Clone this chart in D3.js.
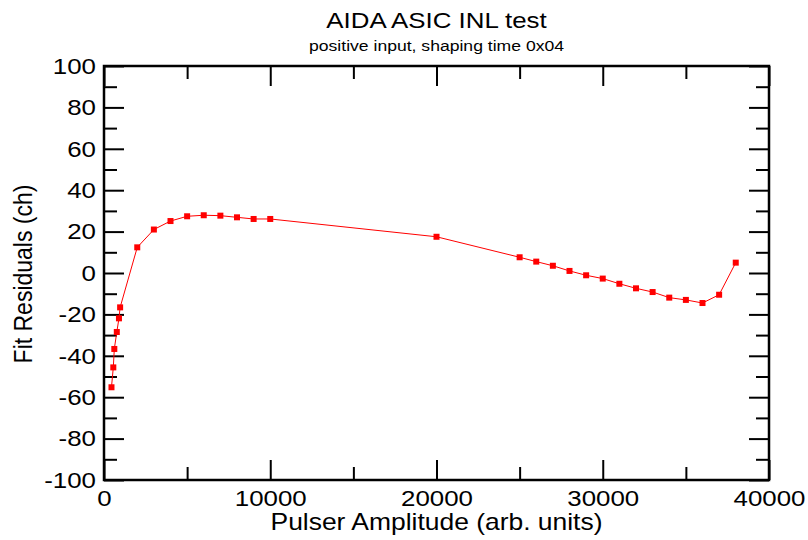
<!DOCTYPE html>
<html>
<head>
<meta charset="utf-8">
<script src="https://cdn.jsdelivr.net/npm/d3@7.9.0/dist/d3.min.js"></script>
<style>
  body { margin: 0; background: #fff; }
  svg text { font-family: "Liberation Sans", Arial, Helvetica, sans-serif; fill: #000; }
</style>
</head>
<body>
<div id="chart"></div>
<script>
// pulser amplitude (arb. units) and fit residuals (ch)
const amplitude = [450, 560, 620, 770, 900, 970, 2000, 3000, 4000, 5000, 6000, 7000, 8000, 9000, 10000,
  20000, 25000, 26000, 27000, 28000, 29000, 30000, 31000, 32000, 33000, 34000, 35000, 36000, 37000, 38000];
const residual = [-55.2, -45.6, -36.7, -28.5, -21.9, -16.6, 12.4, 21.0, 25.1, 27.4, 27.9, 27.7, 26.9, 26.1, 26.1,
  17.5, 7.6, 5.5, 3.5, 1.0, -1.1, -2.7, -5.2, -7.4, -9.2, -11.9, -13.0, -14.5, -10.5, 5.0];

const xMajor = [0, 10000, 20000, 30000, 40000];
const xMinor = [5000, 15000, 25000, 35000];
const yMajor = [-100, -80, -60, -40, -20, 0, 20, 40, 60, 80, 100];
const yMinor = [-90, -70, -50, -30, -10, 10, 30, 50, 70, 90];

const title = "AIDA ASIC INL test";
const subtitle = "positive input, shaping time 0x04";
const xLabel = "Pulser Amplitude (arb. units)";
const yLabel = "Fit Residuals (ch)";

const width = 808;
const height = 540;
const plot = { left: 104, right: 769, top: 66, bottom: 480 };
const stretch = 1.15; // the original text is a bit wider than it is tall

const svg = d3.select("#chart")
  .append("svg")
  .attr("width", width)
  .attr("height", height);

const x = d3.scaleLinear().domain([0, 40000]).range([plot.left, plot.right]);
const y = d3.scaleLinear().domain([-100, 100]).range([plot.bottom, plot.top]);

const plain = (d) => String(d); // plain hyphen for negatives

// tick marks on all four sides, pointing inwards
function styleAxis(g) {
  g.select(".domain").remove();
  g.selectAll(".tick line").attr("stroke", "#000").attr("stroke-width", 2);
  g.selectAll(".tick text")
    .style("font-size", "22.5px")
    .attr("transform", `scale(${stretch},1)`);
}

svg.append("g")
  .attr("transform", `translate(0,${plot.bottom})`)
  .call(d3.axisBottom(x).tickValues(xMajor).tickSize(-20).tickPadding(10).tickFormat(plain))
  .call(styleAxis);
svg.append("g")
  .attr("transform", `translate(0,${plot.bottom})`)
  .call(d3.axisBottom(x).tickValues(xMinor).tickSize(-13).tickFormat(""))
  .call(styleAxis);
svg.append("g")
  .attr("transform", `translate(0,${plot.top})`)
  .call(d3.axisTop(x).tickValues(xMajor).tickSize(-20).tickFormat(""))
  .call(styleAxis);
svg.append("g")
  .attr("transform", `translate(0,${plot.top})`)
  .call(d3.axisTop(x).tickValues(xMinor).tickSize(-13).tickFormat(""))
  .call(styleAxis);

svg.append("g")
  .attr("transform", `translate(${plot.left},0)`)
  .call(d3.axisLeft(y).tickValues(yMajor).tickSize(-20).tickPadding(7).tickFormat(plain))
  .call(styleAxis);
svg.append("g")
  .attr("transform", `translate(${plot.left},0)`)
  .call(d3.axisLeft(y).tickValues(yMinor).tickSize(-13).tickFormat(""))
  .call(styleAxis);
svg.append("g")
  .attr("transform", `translate(${plot.right},0)`)
  .call(d3.axisRight(y).tickValues(yMajor).tickSize(-20).tickFormat(""))
  .call(styleAxis);
svg.append("g")
  .attr("transform", `translate(${plot.right},0)`)
  .call(d3.axisRight(y).tickValues(yMinor).tickSize(-13).tickFormat(""))
  .call(styleAxis);

// frame
svg.append("rect")
  .attr("x", plot.left)
  .attr("y", plot.top)
  .attr("width", plot.right - plot.left)
  .attr("height", plot.bottom - plot.top)
  .attr("fill", "none")
  .attr("stroke", "#000")
  .attr("stroke-width", 2.5);

const points = amplitude.map((a, i) => ({ x: a, y: residual[i] }));

svg.append("path")
  .datum(points)
  .attr("fill", "none")
  .attr("stroke", "#ff0000")
  .attr("stroke-width", 1)
  .attr("d", d3.line().x((d) => x(d.x)).y((d) => y(d.y)));

const s = 6;
svg.append("g")
  .selectAll("rect")
  .data(points)
  .join("rect")
  .attr("x", (d) => x(d.x) - s / 2)
  .attr("y", (d) => y(d.y) - s / 2)
  .attr("width", s)
  .attr("height", s)
  .attr("fill", "#ff0000");

// titles
const cx = (plot.left + plot.right) / 2;
function label(tx, ty, size, text, rotate) {
  svg.append("text")
    .attr("transform", `translate(${tx},${ty}) scale(${stretch},1)` + (rotate ? " rotate(-90)" : ""))
    .attr("text-anchor", "middle")
    .style("font-size", size + "px")
    .text(text);
}
label(cx, 28, 22.5, title);
label(cx, 51, 15.3, subtitle);
label(cx, 530, 23, xLabel);
label(32, 274, 23, yLabel, true);
</script>
</body>
</html>
